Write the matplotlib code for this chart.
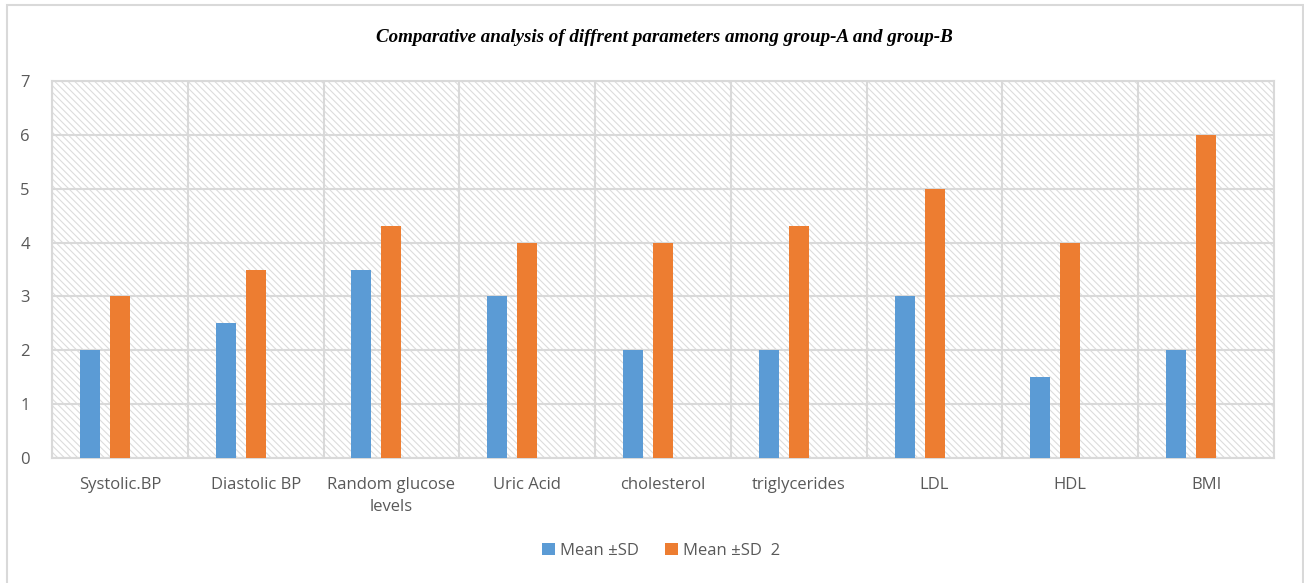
import matplotlib
matplotlib.use("Agg")
import matplotlib.pyplot as plt
from matplotlib.patches import Rectangle
import numpy as np

categories = ["Systolic.BP", "Diastolic BP", "Random glucose\nlevels", "Uric Acid",
              "cholesterol", "triglycerides", "LDL", "HDL", "BMI"]
series_a = [2, 2.5, 3.5, 3, 2, 2, 3, 1.5, 2]
series_b = [3, 3.5, 4.3, 4, 4, 4.3, 5, 4, 6]
label_a = "Mean \u00b1SD"
label_b = "Mean \u00b1SD  2"
title = "Comparative analysis of diffrent parameters among group-A and group-B"

W, H = 1304, 583
fig = plt.figure(figsize=(W / 100, H / 100), dpi=100)
plt.rcParams['hatch.linewidth'] = 0.8
plt.rcParams['hatch.color'] = '#dcdcdc'

# figure border
fig.patches.append(Rectangle((7 / W, -0.01), (1303 - 7) / W, 1.01 - 5 / H,
                             transform=fig.transFigure, fill=False,
                             edgecolor='#d9d9d9', linewidth=1.5))

ax = fig.add_axes([52 / W, 1 - 458 / H, (1274 - 52) / W, (458 - 81) / H])
ax.set_facecolor('white')
ax.add_patch(Rectangle((0, 0), 1, 1, transform=ax.transAxes, facecolor='white',
                       edgecolor='#dcdcdc', hatch='\\' * 5, linewidth=0, zorder=0))

x = np.arange(len(categories))
w = 0.148
ax.bar(x - 0.221, series_a, width=w, color='#5B9BD5', label=label_a, zorder=3)
ax.bar(x, series_b, width=w, color='#ED7D31', label=label_b, zorder=3)

ax.set_xlim(-0.5, len(categories) - 0.5)
ax.set_ylim(0, 7)
ax.set_yticks(range(0, 8))
ax.set_xticks(x)
ax.set_xticklabels(categories, fontsize=12, color='#595959', family='Open Sans',
                   linespacing=1.45)
ax.set_xticks(np.arange(-0.5, len(categories)), minor=True)
for lab in ax.get_yticklabels():
    lab.set_fontsize(12)
    lab.set_color('#595959')
    lab.set_family('Open Sans')
ax.tick_params(axis='both', which='both', length=0)
ax.tick_params(axis='y', pad=16)
ax.tick_params(axis='x', pad=14)
ax.grid(axis='y', which='major', color='#d9d9d9', linewidth=1.5, zorder=1)
ax.grid(axis='x', which='minor', color='#d9d9d9', linewidth=1.5, zorder=1)
ax.set_axisbelow(True)
for s in ax.spines.values():
    s.set_color('#d9d9d9')
    s.set_linewidth(1.5)

fig.text(664 / W, 1 - 38 / H, title, ha='center', va='center', fontsize=13.7,
         family='Liberation Serif', style='italic', weight='bold', color='black')

leg = fig.legend(loc='center', bbox_to_anchor=(661 / W, 1 - 551 / H), ncol=2,
                 frameon=False, handlelength=0.75, handleheight=0.75,
                 columnspacing=1.6, handletextpad=0.3,
                 prop={'family': 'Open Sans', 'size': 12})
for t in leg.get_texts():
    t.set_color('#595959')

fig.savefig('out.png', dpi=100)
